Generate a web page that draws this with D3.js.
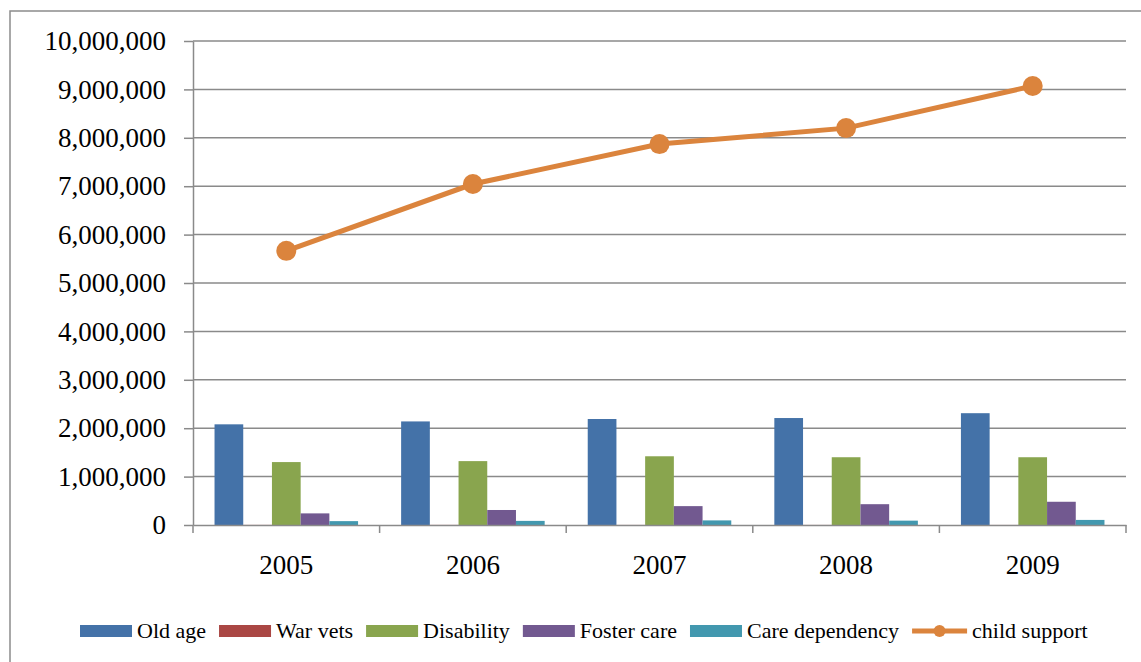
<!DOCTYPE html>
<html>
<head>
<meta charset="utf-8">
<script src="https://cdn.jsdelivr.net/npm/d3@7"></script>
<style>
  body { margin: 0; background: #fff; }
  svg { display: block; }
</style>
</head>
<body>
<div id="chart"></div>
<script>
const years = ["2005", "2006", "2007", "2008", "2009"];
const barSeries = ["Old age", "War vets", "Disability", "Foster care", "Care dependency"];
const oldAge = [2080000, 2140000, 2190000, 2210000, 2310000];
const warVets = [2000, 2000, 1500, 1500, 1200];
const disability = [1300000, 1320000, 1420000, 1400000, 1400000];
const fosterCare = [240000, 310000, 390000, 430000, 480000];
const careDependency = [80000, 85000, 95000, 90000, 105000];
const childSupport = [5665000, 7045000, 7870000, 8200000, 9070000];
const lineName = "child support";
const yTicks = [0, 1000000, 2000000, 3000000, 4000000, 5000000, 6000000, 7000000, 8000000, 9000000, 10000000];

const barValues = [oldAge, warVets, disability, fosterCare, careDependency];
const colors = ["#4472a8", "#aa4744", "#89a54e", "#725990", "#4298af"];
const lineColor = "#db843d";

const width = 1141, height = 662;
const margin = { top: 41, right: 15, bottom: 137, left: 193 };

const svg = d3.select("#chart").append("svg")
  .attr("width", width)
  .attr("height", height);

// outer chart frame (runs off right and bottom in the reference)
svg.append("rect")
  .attr("x", 10).attr("y", 11)
  .attr("width", 1200).attr("height", 700)
  .attr("fill", "none")
  .attr("stroke", "#8c8c8c")
  .attr("stroke-width", 1.5);

const x = d3.scaleBand()
  .domain(years)
  .range([margin.left, width - margin.right]);

const x1 = d3.scaleBand()
  .domain(barSeries)
  .range([0, x.bandwidth()])
  .paddingInner(0)
  .paddingOuter(0.75);

const y = d3.scaleLinear()
  .domain([0, 10000000])
  .range([height - margin.bottom, margin.top]);

const fmt = d3.format(",");

// gridlines
svg.append("g")
  .selectAll("line")
  .data(yTicks.slice(1))
  .join("line")
  .attr("x1", margin.left).attr("x2", width - margin.right)
  .attr("y1", d => y(d)).attr("y2", d => y(d))
  .attr("stroke", "#8a8a8a")
  .attr("stroke-width", 1.5);

// y axis
const yAxis = svg.append("g")
  .attr("transform", `translate(${margin.left},0)`)
  .call(d3.axisLeft(y).tickValues(yTicks).tickFormat(fmt).tickSize(9).tickSizeOuter(0).tickPadding(18));
yAxis.select(".domain").attr("stroke", "#8a8a8a").attr("stroke-width", 1.5);
yAxis.selectAll(".tick line").attr("stroke", "#8a8a8a").attr("stroke-width", 1.5);
yAxis.selectAll(".tick text")
  .attr("font-family", "'Liberation Serif', serif")
  .attr("font-size", 27)
  .attr("fill", "#000");

// bars
const groups = svg.append("g")
  .selectAll("g")
  .data(years)
  .join("g")
  .attr("transform", d => `translate(${x(d)},0)`);

groups.selectAll("rect")
  .data((d, i) => barSeries.map((s, j) => ({ s, j, v: barValues[j][i] })))
  .join("rect")
  .attr("x", d => x1(d.s))
  .attr("y", d => y(d.v))
  .attr("width", x1.bandwidth())
  .attr("height", d => y(0) - y(d.v))
  .attr("fill", d => colors[d.j]);

// x axis
const xAxis = svg.append("g")
  .attr("transform", `translate(0,${y(0)})`)
  .call(d3.axisBottom(x).tickSize(0).tickPadding(30));
xAxis.select(".domain").attr("stroke", "#8a8a8a").attr("stroke-width", 1.5);
xAxis.selectAll(".tick text")
  .attr("font-family", "'Liberation Serif', serif")
  .attr("font-size", 27)
  .attr("fill", "#000");

// category boundary ticks
svg.append("g")
  .selectAll("line")
  .data(years.map(d => x(d)).concat([x(years[years.length - 1]) + x.bandwidth()]))
  .join("line")
  .attr("x1", d => d).attr("x2", d => d)
  .attr("y1", y(0)).attr("y2", y(0) + 8)
  .attr("stroke", "#8a8a8a")
  .attr("stroke-width", 1.5);

// line series
const line = d3.line()
  .x((d, i) => x(years[i]) + x.bandwidth() / 2)
  .y(d => y(d));

svg.append("path")
  .datum(childSupport)
  .attr("d", line)
  .attr("fill", "none")
  .attr("stroke", lineColor)
  .attr("stroke-width", 5);

svg.append("g")
  .selectAll("circle")
  .data(childSupport)
  .join("circle")
  .attr("cx", (d, i) => x(years[i]) + x.bandwidth() / 2)
  .attr("cy", d => y(d))
  .attr("r", 10)
  .attr("fill", lineColor);

// legend
const legend = svg.append("g");
const legendItems = barSeries.map((s, i) => ({ name: s, color: colors[i], type: "bar" }))
  .concat([{ name: lineName, color: lineColor, type: "line" }]);

let lx = 80;
const ly = 631;
legendItems.forEach(item => {
  const g = legend.append("g");
  if (item.type === "bar") {
    g.append("rect")
      .attr("x", lx).attr("y", ly - 6)
      .attr("width", 52).attr("height", 12)
      .attr("fill", item.color);
  } else {
    g.append("line")
      .attr("x1", lx).attr("x2", lx + 55)
      .attr("y1", ly).attr("y2", ly)
      .attr("stroke", item.color)
      .attr("stroke-width", 5);
    g.append("circle")
      .attr("cx", lx + 27.5).attr("cy", ly)
      .attr("r", 6)
      .attr("fill", item.color);
  }
  const tx = lx + (item.type === "bar" ? 57 : 60);
  const t = g.append("text")
    .attr("x", tx).attr("y", ly + 7)
    .attr("font-family", "'Liberation Serif', serif")
    .attr("font-size", 22)
    .attr("fill", "#000")
    .text(item.name);
  lx = tx + t.node().getComputedTextLength() + 13;
});
</script>
</body>
</html>
